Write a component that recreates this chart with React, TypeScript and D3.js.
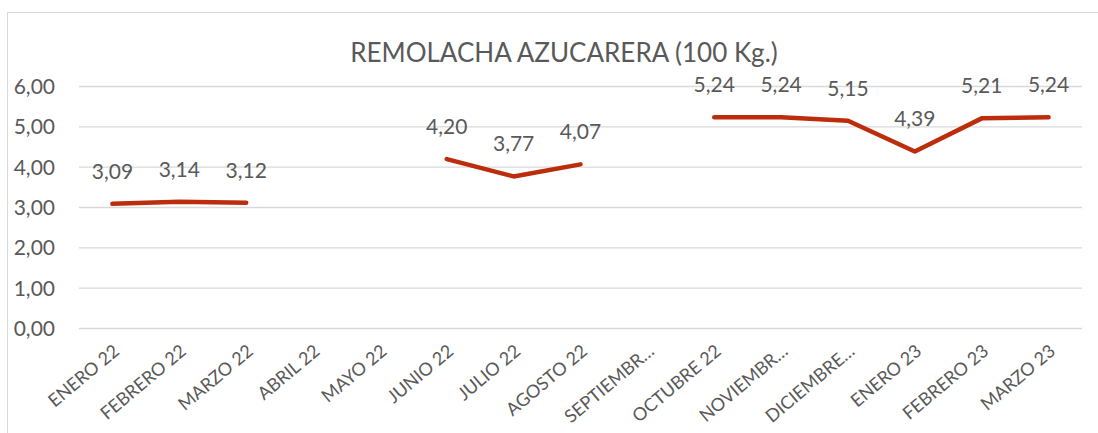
import React from "react";
import * as d3 from "d3";

const categories = [
  "ENERO 22", "FEBRERO 22", "MARZO 22", "ABRIL 22", "MAYO 22", "JUNIO 22",
  "JULIO 22", "AGOSTO 22", "SEPTIEMBR…", "OCTUBRE 22", "NOVIEMBR…",
  "DICIEMBRE…", "ENERO 23", "FEBRERO 23", "MARZO 23",
];
const values: (number | null)[] = [
  3.09, 3.14, 3.12, null, null, 4.2, 3.77, 4.07, null, 5.24, 5.24, 5.15, 4.39, 5.21, 5.24,
];
const yTicks = [0, 1, 2, 3, 4, 5, 6];
const title = "REMOLACHA AZUCARERA (100 Kg.)";

const FONT = "Lato, 'Open Sans', sans-serif";
const TEXT = "#595959";
const GRID = "#D9D9D9";
const LINE = "#BC2D0B";

const fmt = (v: number) => v.toFixed(2).replace(".", ",");

export default function App() {
  const W = 1098, H = 433;
  const x = d3.scaleBand<string>().domain(categories).range([79, 1082]).padding(0);
  const y = d3.scaleLinear().domain([0, 6]).range([328.5, 86.5]);
  const cx = (i: number) => (x(categories[i]) as number) + x.bandwidth() / 2;
  const pts = values.map((v, i) => ({ v, i }));
  const line = d3
    .line<{ v: number | null; i: number }>()
    .defined((d) => d.v != null)
    .x((d) => cx(d.i))
    .y((d) => y(d.v as number));

  return (
    <svg width={W} height={H} style={{ position: "absolute", left: 0, top: 0, background: "#fff" }}>
      <rect x={0} y={0} width={W} height={H} fill="#fff" />
      <rect x={7.5} y={12.5} width={1200} height={600} fill="none" stroke={GRID} strokeWidth={1} />
      <text x={564} y={62} textAnchor="middle" fontFamily={FONT} fontSize={26} fill={TEXT}>
        {title}
      </text>
      {yTicks.map((t) => (
        <g key={t}>
          <line x1={79} x2={1082} y1={y(t)} y2={y(t)} stroke={GRID} strokeWidth={1.3} />
          <text x={55} y={y(t)} dy="0.36em" textAnchor="end" fontFamily={FONT} fontSize={21} fill={TEXT}>
            {fmt(t)}
          </text>
        </g>
      ))}
      {categories.map((c, i) => (
        <text
          key={c}
          transform={`translate(${cx(i) + 8},${353}) rotate(-40)`}
          textAnchor="end"
          fontFamily={FONT}
          fontSize={18}
          fill={TEXT}
        >
          {c}
        </text>
      ))}
      <path d={line(pts) || ""} fill="none" stroke={LINE} strokeWidth={4.5} strokeLinecap="round" strokeLinejoin="round" />
      {pts.map((d) =>
        d.v == null ? null : (
          <text
            key={d.i}
            x={cx(d.i)}
            y={y(d.v) - 25}
            textAnchor="middle"
            fontFamily={FONT}
            fontSize={21}
            fill={TEXT}
          >
            {fmt(d.v)}
          </text>
        )
      )}
    </svg>
  );
}
